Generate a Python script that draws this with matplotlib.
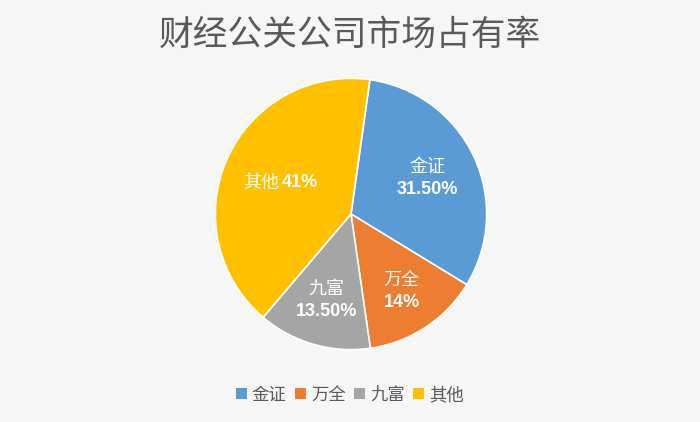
import numpy as np
import matplotlib
matplotlib.use("Agg")
from matplotlib import pyplot as plt
from matplotlib.patches import Patch

plt.rcParams['font.family'] = ['Noto Sans CJK SC', 'DejaVu Sans']

# data
names = ['金证', '万全', '九富', '其他']
shares = [31.5, 14, 13.5, 41]
value_labels = ['31.50%', '14%', '13.50%', '41%']
colors = ['#5B9BD5', '#ED7D31', '#A5A5A5', '#FFC000']

fig = plt.figure(figsize=(7, 4.22), dpi=100)
fig.patch.set_facecolor('#F6F6F6')

# pie axes: centre ~ (351, 214) px, radius ~137 px
cx, cy, r = 351 / 700, 1 - 214 / 422, 137
ax = fig.add_axes([cx - r / 700, cy - r / 422, 2 * r / 700, 2 * r / 422])
ax.set_facecolor('none')

wedges, _ = ax.pie(shares, colors=colors, startangle=82, counterclock=False,
                   wedgeprops=dict(edgecolor='white', linewidth=1.2))
ax.set_xlim(-1.01, 1.01)
ax.set_ylim(-1.01, 1.01)
ax.set_aspect('equal')

radii = [0.62, 0.68, 0.66, 0.56]  # label distance from centre
for w, name, val, rad in zip(wedges, names, value_labels, radii):
    ang = np.deg2rad((w.theta1 + w.theta2) / 2)
    x, y = rad * np.cos(ang), rad * np.sin(ang)
    if name == '其他':
        ax.annotate(name, (x, y), xytext=(-2, 0), textcoords='offset points',
                    ha='right', va='center', color='white', fontsize=13)
        ax.annotate(val, (x, y), xytext=(0, 0), textcoords='offset points',
                    ha='left', va='center', color='white', fontsize=13,
                    fontweight='bold', family='Liberation Sans')
    else:
        ax.annotate(name, (x, y), xytext=(0, 8), textcoords='offset points',
                    ha='center', va='center', color='white', fontsize=13)
        ax.annotate(val, (x, y), xytext=(0, -8), textcoords='offset points',
                    ha='center', va='center', color='white', fontsize=13,
                    fontweight='bold', family='Liberation Sans')

fig.text(0.5, 1 - 35 / 422, '财经公关公司市场占有率', ha='center', va='center',
         fontsize=25, color='#595959')

handles = [Patch(facecolor=c, edgecolor='none') for c in colors]
fig.legend(handles, names, loc='center', bbox_to_anchor=(0.5, 1 - 395 / 422),
           ncol=4, frameon=False, fontsize=12.5, labelcolor='#595959',
           handlelength=0.6, handleheight=0.6, handletextpad=0.3,
           columnspacing=0.5)

plt.savefig('out.png', dpi=100, facecolor=fig.get_facecolor())
plt.close()
